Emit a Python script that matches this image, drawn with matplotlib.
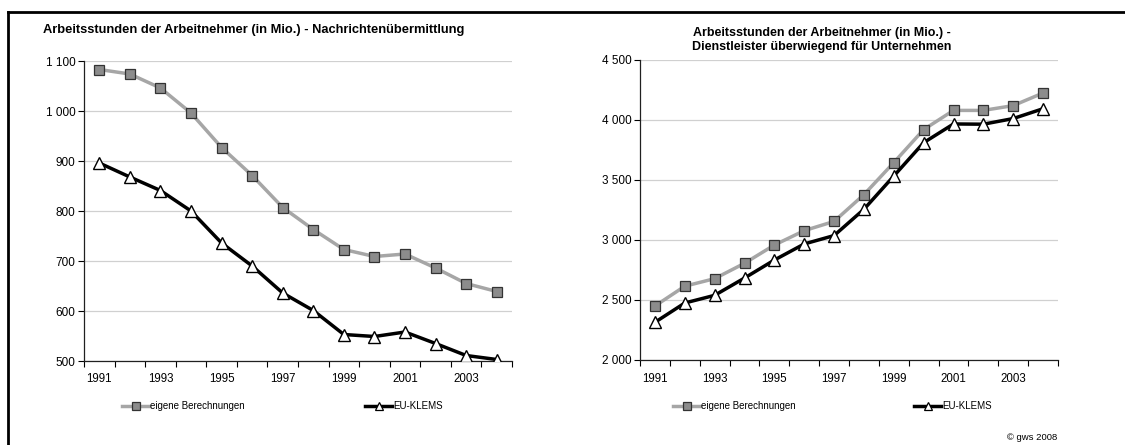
import numpy as np
import matplotlib.pyplot as plt
from matplotlib.lines import Line2D
from matplotlib.ticker import FuncFormatter, FixedLocator

plt.rcParams['font.family'] = ['Liberation Sans', 'DejaVu Sans']

years = list(range(1991, 2005))
year_labels = [str(y) if (y - 1991) % 2 == 0 else "" for y in years]

# Nachrichtenuebermittlung
nach_eigene = [1083, 1074, 1046, 996, 927, 871, 807, 763, 723, 709, 714, 686, 655, 639]
nach_klems = [896, 868, 841, 800, 736, 690, 636, 601, 553, 549, 558, 535, 511, 503]

# Dienstleister ueberwiegend fuer Unternehmen
dienst_eigene = [2450, 2615, 2678, 2806, 2958, 3078, 3155, 3378, 3645, 3920, 4080, 4080, 4120, 4225]
dienst_klems = [2314, 2475, 2539, 2683, 2833, 2967, 3037, 3256, 3533, 3811, 3967, 3965, 4012, 4094]

title_left = "Arbeitsstunden der Arbeitnehmer (in Mio.) - Nachrichtenübermittlung"
title_right = "Arbeitsstunden der Arbeitnehmer (in Mio.) -\nDienstleister überwiegend für Unternehmen"
lbl_eigene = "eigene Berechnungen"
lbl_klems = "EU-KLEMS"

W, H = 1125, 445
fig = plt.figure(figsize=(W / 100, H / 100), dpi=100)


def px_axes(x0, x1, ytop, ybot):
    return fig.add_axes([x0 / W, 1 - ybot / H, (x1 - x0) / W, (ybot - ytop) / H])


def thousands(v, pos):
    return f"{int(v):,}".replace(",", " ")


def style_ax(ax, ylim, ystep):
    x = np.arange(len(years))
    ax.set_xlim(-0.5, len(years) - 0.5)
    ax.set_ylim(*ylim)
    ax.set_yticks(np.arange(ylim[0], ylim[1] + 1, ystep))
    ax.yaxis.set_major_formatter(FuncFormatter(thousands))
    ax.set_xticks(x)
    ax.set_xticklabels(year_labels)
    ax.xaxis.set_minor_locator(FixedLocator(np.arange(-0.5, len(years), 1.0)))
    ax.tick_params(axis='x', which='major', length=0, pad=9, labelsize=8.3)
    ax.tick_params(axis='x', which='minor', length=4, width=0.8, direction='out')
    ax.tick_params(axis='y', length=4, width=0.8, labelsize=8.5, pad=2)
    ax.grid(axis='y', color='#d0d0d0', linewidth=0.9)
    ax.set_axisbelow(True)
    for s in ('top', 'right'):
        ax.spines[s].set_visible(False)
    for s in ('left', 'bottom'):
        ax.spines[s].set_linewidth(0.9)
        ax.spines[s].set_color('#202020')


def draw_lines(ax, eig, kl):
    x = np.arange(len(years))
    ax.plot(x, eig, color='#a6a6a6', linewidth=2.5, marker='s', markersize=7.5,
            markerfacecolor='#8c8c8c', markeredgecolor='#333333', markeredgewidth=0.9,
            label=lbl_eigene, zorder=3)
    ax.plot(x, kl, color='black', linewidth=2.5, marker='^', markersize=8,
            markerfacecolor='white', markeredgecolor='black', markeredgewidth=1.0,
            label=lbl_klems, zorder=4)


def legend_item(xs, y, line_color, marker, mfc, mec, text):
    fig.add_artist(Line2D([xs / W, (xs + 27) / W], [1 - y / H, 1 - y / H],
                          color=line_color, linewidth=2.5, transform=fig.transFigure))
    fig.add_artist(Line2D([(xs + 13.5) / W], [1 - y / H], marker=marker, markersize=6,
                          markerfacecolor=mfc, markeredgecolor=mec, markeredgewidth=0.9,
                          linestyle='none', transform=fig.transFigure))
    fig.text((xs + 28) / W, 1 - y / H, text, fontsize=7, va='center', ha='left')


axL = px_axes(84, 512, 61, 361)
style_ax(axL, (500, 1100), 100)
draw_lines(axL, nach_eigene, nach_klems)
fig.text(43 / W, 1 - 30 / H, title_left, fontsize=9.3, fontweight='bold', va='center', ha='left')

axR = px_axes(640, 1058, 60, 360)
style_ax(axR, (2000, 4500), 500)
draw_lines(axR, dienst_eigene, dienst_klems)
fig.text(822 / W, 1 - 40 / H, title_right, fontsize=9.0, fontweight='bold', va='center',
         ha='center', linespacing=1.25)

# legends
legend_item(122, 406, '#a6a6a6', 's', '#8c8c8c', '#333333', lbl_eigene)
legend_item(365, 406, 'black', '^', 'white', 'black', lbl_klems)
legend_item(673, 406, '#a6a6a6', 's', '#8c8c8c', '#333333', lbl_eigene)
legend_item(914, 406, 'black', '^', 'white', 'black', lbl_klems)

fig.text(1057 / W, 1 - 437 / H, "© gws 2008", fontsize=6.8, va='center', ha='right')

# outer frame (left and top edge)
fig.add_artist(Line2D([8 / W, 8 / W], [0, 1 - 12 / H], color='black', linewidth=2,
                      transform=fig.transFigure))
fig.add_artist(Line2D([8 / W, 1], [1 - 12 / H, 1 - 12 / H], color='black', linewidth=2,
                      transform=fig.transFigure))

fig.savefig("out.png", dpi=100)
